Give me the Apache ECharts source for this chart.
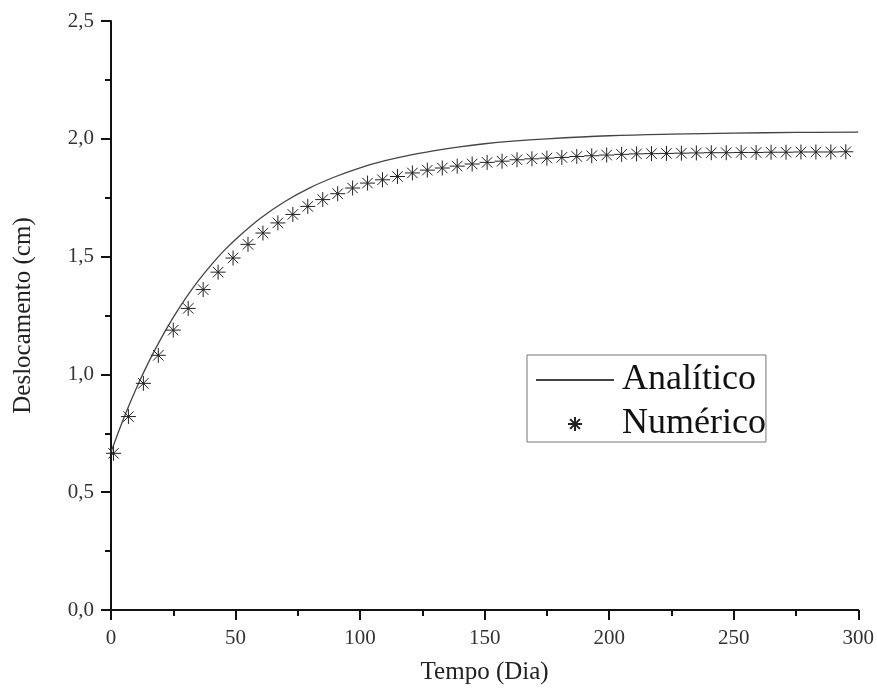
<!DOCTYPE html>
<html>
<head>
<meta charset="utf-8">
<script src="https://cdn.jsdelivr.net/npm/echarts@6/dist/echarts.min.js"></script>
<style>
html,body{margin:0;padding:0;background:#fff;}
#chart{width:877px;height:690px;}
</style>
</head>
<body>
<div id="chart"></div>
<script>
// Analytic curve (time in days, displacement in cm)
const analyticX = [0, 5, 10, 15, 20, 25, 30, 35, 40, 45, 50, 60, 70, 80, 90, 100, 110, 120, 130, 140, 150, 160, 175, 200, 225, 250, 275, 300];
const analyticY = [0.67, 0.811, 0.937, 1.050, 1.151, 1.242, 1.324, 1.397, 1.462, 1.521, 1.573, 1.663, 1.735, 1.793, 1.839, 1.877, 1.907, 1.931, 1.950, 1.966, 1.979, 1.989, 2.000, 2.013, 2.020, 2.024, 2.027, 2.028];

// Numeric solution points
const numericX = [1, 7, 13, 19, 25, 31, 37, 43, 49, 55, 61, 67, 73, 79, 85, 91, 97, 103, 109, 115, 121, 127, 133, 139, 145, 151, 157, 163, 169, 175, 181, 187, 193, 199, 205, 211, 217, 223, 229, 235, 241, 247, 253, 259, 265, 271, 277, 283, 289, 295];
const numericY = [0.665, 0.821, 0.962, 1.081, 1.188, 1.280, 1.360, 1.434, 1.494, 1.552, 1.600, 1.643, 1.679, 1.713, 1.742, 1.767, 1.791, 1.812, 1.826, 1.840, 1.855, 1.867, 1.876, 1.884, 1.893, 1.900, 1.905, 1.911, 1.915, 1.918, 1.921, 1.925, 1.928, 1.931, 1.934, 1.936, 1.937, 1.938, 1.939, 1.940, 1.941, 1.941, 1.942, 1.942, 1.943, 1.943, 1.944, 1.944, 1.944, 1.945];

const seriesNames = ['Analítico', 'Numérico'];
const xTitle = 'Tempo (Dia)';
const yTitle = 'Deslocamento (cm)';

const FONT = '"Liberation Serif", "DejaVu Serif", serif';
const star = 'path://M10 0 L10 20 M0 10 L20 10 M3 3 L17 17 M3 17 L17 3';

const chart = echarts.init(document.getElementById('chart'), null, {renderer: 'canvas'});
chart.setOption({
  backgroundColor: '#fff',
  animation: false,
  textStyle: {fontFamily: FONT},
  grid: {left: 111, right: 17, top: 21, bottom: 79, containLabel: false},
  legend: {
    orient: 'vertical',
    left: 527, top: 355,
    padding: [7, 0, 0, 8],
    itemGap: 8,
    itemWidth: 78, itemHeight: 14,
    borderColor: '#777', borderWidth: 1,
    textStyle: {fontFamily: FONT, fontSize: 36, color: '#111', padding: [0, 0, 0, 3]},
    data: [
      {name: seriesNames[0], itemStyle: {color: 'rgba(0,0,0,0)', borderColor: 'rgba(0,0,0,0)', borderWidth: 0}},
      {name: seriesNames[1]}
    ]
  },
  xAxis: {
    type: 'value', min: 0, max: 300, interval: 50,
    name: xTitle, nameLocation: 'middle', nameGap: 50, nameMoveOverlap: false,
    nameTextStyle: {fontFamily: FONT, fontSize: 25, color: '#222'},
    axisLine: {show: true, onZero: false, lineStyle: {color: '#111', width: 2}},
    axisTick: {show: true, inside: false, length: 10, lineStyle: {color: '#111', width: 2}},
    minorTick: {show: true, splitNumber: 2, length: 6, lineStyle: {color: '#111', width: 2}},
    axisLabel: {fontFamily: FONT, fontSize: 21, color: '#333', margin: 18},
    splitLine: {show: false}
  },
  yAxis: {
    type: 'value', min: 0, max: 2.5, interval: 0.5,
    name: yTitle, nameLocation: 'middle', nameGap: 75, nameRotate: 90, nameMoveOverlap: false,
    nameTextStyle: {fontFamily: FONT, fontSize: 25, color: '#222'},
    axisLine: {show: true, onZero: false, lineStyle: {color: '#111', width: 2}},
    axisTick: {show: true, inside: false, length: 10, lineStyle: {color: '#111', width: 2}},
    minorTick: {show: true, splitNumber: 2, length: 6, lineStyle: {color: '#111', width: 2}},
    axisLabel: {fontFamily: FONT, fontSize: 21, color: '#333', margin: 17,
      formatter: v => v.toFixed(1).replace('.', ',')},
    splitLine: {show: false}
  },
  series: [
    {
      name: seriesNames[0], type: 'line', smooth: 0.4,
      symbol: 'none', showSymbol: false,
      lineStyle: {color: '#444', width: 1.3},
      itemStyle: {color: '#444'},
      data: analyticX.map((x, i) => [x, analyticY[i]]),
      z: 2
    },
    {
      name: seriesNames[1], type: 'scatter',
      symbol: star, symbolSize: 15, symbolKeepAspect: true,
      itemStyle: {color: 'rgba(0,0,0,0)', borderColor: '#222', borderWidth: 1, opacity: 1},
      data: numericX.map((x, i) => [x, numericY[i]]),
      z: 3
    }
  ]
});
</script>
</body>
</html>
